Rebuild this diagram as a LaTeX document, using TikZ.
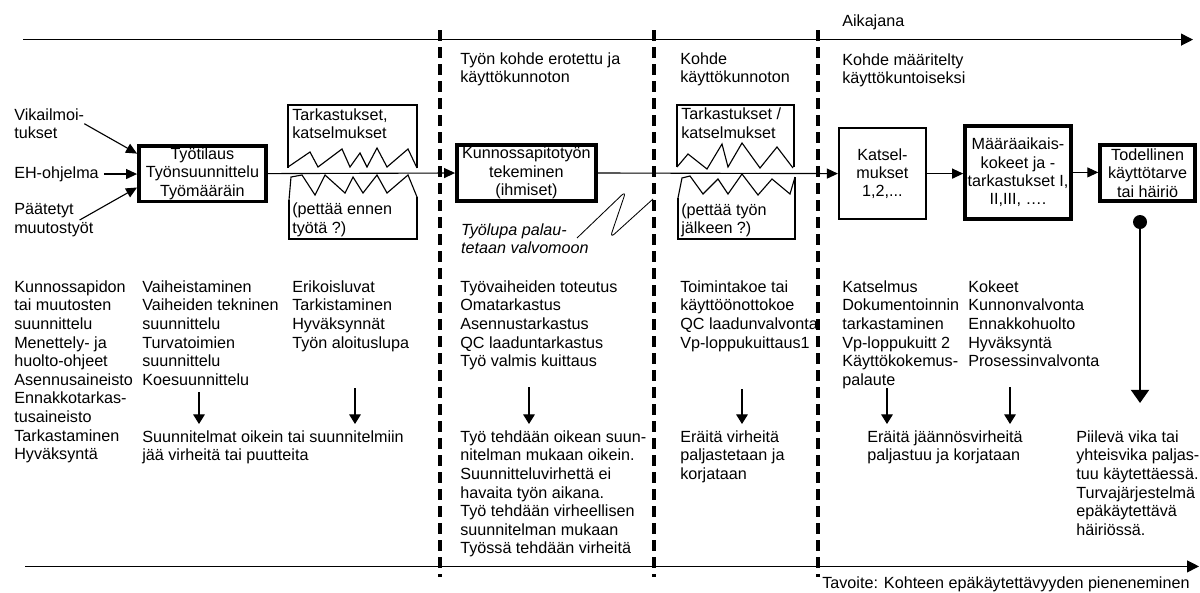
\documentclass[tikz,border=0pt]{standalone}
\usepackage{fontspec}
\setmainfont{Liberation Sans}
\usetikzlibrary{arrows.meta}
\usetikzlibrary{positioning}

\tikzstyle{txt} = [inner sep=0pt, align=left, anchor=north west, yshift=2.95mm, font=\fontsize{11.5}{13.25}\selectfont]
\tikzstyle{thickbox} = [rectangle, draw=black, line width=2.6pt, inner sep=0pt, align=center, font=\fontsize{11.5}{13.1}\selectfont]
\tikzstyle{thinbox} = [thickbox, line width=1.4pt]
\tikzstyle{arrow} = [line width=0.8pt, -{Triangle[length=2.75mm,width=2.5mm]}]
\tikzstyle{timeline} = [line width=0.8pt, -{Triangle[length=3mm,width=3mm]}]
\tikzstyle{downarrow} = [line width=0.8pt, shorten >=1.55mm, -{Triangle[length=2.4mm,width=2.9mm]}]
\tikzstyle{bigarrow} = [line width=1.6pt, -{Triangle[length=3.3mm,width=4.5mm]}]
\tikzstyle{phase} = [line width=2.5pt, dash pattern=on 2.75mm off 1.5mm]
\tikzstyle{lid} = [line width=1.5pt]
\tikzstyle{zig} = [line width=0.8pt]

\begin{document}
\begin{tikzpicture}

\useasboundingbox (0,0) rectangle (300mm,-148mm);

\coordinate (top0) at (5.75mm,-9.9mm);
\coordinate (top1) at (298.25mm,-9.9mm);
\coordinate (bot0) at (6.25mm,-141.6mm);
\coordinate (bot1) at (299.75mm,-141.6mm);
\draw [timeline] (top0) -- (top1);
\draw [timeline] (bot0) -- (bot1);

\draw [phase] (110mm,-7.5mm) -- (110mm,-144.25mm);
\draw [phase] (163.5mm,-7.5mm) -- (163.5mm,-144.25mm);
\draw [phase] (204.5mm,-7.5mm) -- (204.5mm,-144.25mm);

\node (aika) [txt] at (210.5mm,-6.6mm) {Aikajana};
\node (erotettu) [txt] at (115mm,-16mm) {Työn kohde erotettu ja\\käyttökunnoton};
\node (kunnoton) [txt] at (170mm,-16mm) {Kohde\\käyttökunnoton};
\node (kuntoinen) [txt] at (210.5mm,-16.25mm) {Kohde määritelty\\käyttökuntoiseksi};
\node (tavoite) [txt] at (205.5mm,-147mm) {Tavoite: Kohteen epäkäytettävyyden pieneneminen};

\node (tyotilaus) [thickbox, minimum width=31.75mm, minimum height=13.9mm] at (50.6mm,-43.4mm) {Työtilaus\\Työnsuunnittelu\\Työmääräin};
\node (kunnossa) [thickbox, minimum width=34.75mm, minimum height=13.9mm] at (131.6mm,-43.25mm) {Kunnossapitotyön\\tekeminen\\(ihmiset)};
\node (katsel) [thinbox, minimum width=21.75mm, minimum height=22.75mm] at (220.6mm,-43.4mm) {Katsel-\\mukset\\1,2,...};
\node (maara) [thickbox, minimum width=26.5mm, minimum height=23.25mm] at (254.5mm,-43.1mm) {Määräaikais-\\kokeet ja -\\tarkastukset I,\\II,III, ….};
\node (todellinen) [thickbox, minimum width=23.75mm, minimum height=13.9mm] at (286.9mm,-43.25mm) {Todellinen\\käyttötarve\\tai häiriö};

\node (vika) [txt] at (3.5mm,-30mm) {Vikailmoi-\\tukset};
\node (eh) [txt] at (3.5mm,-44.5mm) {EH-ohjelma};
\node (paat) [txt] at (3.5mm,-53.75mm) {Päätetyt\\muutostyöt};

\draw [arrow] (vika.east) -- (tyotilaus.163);
\draw [arrow, shorten <=1.2mm] (eh.east) -- (eh.east -| tyotilaus.west);
\draw [arrow] ([xshift=-3.5mm]paat.east) -- (tyotilaus.192);

\draw [arrow] (tyotilaus.east) -- (kunnossa.west);
\draw [arrow] (kunnossa.east) -- (katsel.west);
\draw [arrow] (katsel.east) -- (katsel.east -| maara.west);
\draw [arrow] (maara.east) -- (maara.east -| todellinen.west);

\draw [lid] (72mm,-42mm) -- (72mm,-26.25mm) -- (104.25mm,-26.25mm) -- (104.25mm,-42mm);
\draw [zig] (72mm,-41.75mm) -- (77.5mm,-38mm) -- (79.5mm,-41.75mm) -- (85.5mm,-37.25mm) -- (87.5mm,-41.75mm) -- (90mm,-38.25mm) -- (91.75mm,-41.75mm) -- (94.25mm,-37mm) -- (96.75mm,-41.75mm) -- (102mm,-37.25mm) -- (104.25mm,-42mm);
\draw [zig] (72.25mm,-50mm) -- (72.75mm,-44.25mm) -- (75.5mm,-43.75mm) -- (78.75mm,-48.75mm) -- (81.25mm,-43.75mm) -- (86.25mm,-48.25mm) -- (88.25mm,-44.25mm) -- (90.75mm,-48.25mm) -- (94.25mm,-43.75mm) -- (96.75mm,-48.25mm) -- (102mm,-43.75mm) -- (104.25mm,-49.25mm);
\draw [lid] (72.25mm,-50mm) -- (72.25mm,-59.75mm) -- (104.25mm,-59.75mm) -- (104.25mm,-49.25mm);
\node (tark1) [txt] at (73mm,-30mm) {Tarkastukset,\\katselmukset};
\node (pettaa1) [txt] at (73mm,-53.6mm) {(pettää ennen\\työtä ?)};

\draw [lid] (169.25mm,-41.75mm) -- (169.25mm,-26.25mm) -- (198.5mm,-26.25mm) -- (198.5mm,-41.75mm);
\draw [zig] (169.25mm,-41.75mm) -- (172mm,-38.5mm) -- (176.75mm,-42.25mm) -- (180.5mm,-36mm) -- (182mm,-41.75mm) -- (185.5mm,-35.75mm) -- (190mm,-42mm) -- (194.25mm,-36.75mm) -- (198.25mm,-42mm);
\draw [zig] (169.5mm,-49.5mm) -- (170.5mm,-44.5mm) -- (172.5mm,-44mm) -- (175.75mm,-48.5mm) -- (179.5mm,-44.75mm) -- (182mm,-48.5mm) -- (185.5mm,-43.5mm) -- (189.5mm,-48.75mm) -- (193mm,-44.75mm) -- (197.5mm,-48.5mm) -- (198.75mm,-44.25mm);
\draw [lid] (169.5mm,-49.5mm) -- (169.5mm,-59.75mm) -- (198.75mm,-59.75mm) -- (198.75mm,-44.25mm);
\node (tark2) [txt] at (170.25mm,-29.85mm) {Tarkastukset /\\katselmukset};
\node (pettaa2) [txt] at (170.25mm,-53.75mm) {(pettää työn\\jälkeen ?)};

\node (tyolupa) [txt, font=\fontsize{11.5}{13.25}\selectfont\itshape] at (115.2mm,-58.75mm) {Työlupa palau-\\tetaan valvomoon};
\draw [zig, line width=0.6pt, rounded corners=1.5mm] (144.25mm,-59.5mm) -- (156.5mm,-47.75mm) -- (152.5mm,-59.5mm) -- (163.25mm,-49.75mm);

\node (plan) [txt] at (3.5mm,-73mm) {Kunnossapidon\\tai muutosten\\suunnittelu\\Menettely- ja\\huolto-ohjeet\\Asennusaineisto\\Ennakkotarkas-\\tusaineisto\\Tarkastaminen\\Hyväksyntä};
\node (vaihe) [txt] at (35.5mm,-73mm) {Vaiheistaminen\\Vaiheiden tekninen\\suunnittelu\\Turvatoimien\\suunnittelu\\Koesuunnittelu};
\node (luvat) [txt] at (73mm,-73mm) {Erikoisluvat\\Tarkistaminen\\Hyväksynnät\\Työn aloituslupa};
\node (toteutus) [txt] at (115mm,-73mm) {Työvaiheiden toteutus\\Omatarkastus\\Asennustarkastus\\QC laaduntarkastus\\Työ valmis kuittaus};
\node (koe) [txt] at (170mm,-73mm) {Toimintakoe tai\\käyttöönottokoe\\QC laadunvalvonta\\Vp-loppukuittaus1};
\node (katselmus) [txt] at (210.5mm,-73mm) {Katselmus\\Dokumentoinnin\\tarkastaminen\\Vp-loppukuitt 2\\Käyttökokemus-\\palaute};
\node (kokeet) [txt] at (242mm,-73mm) {Kokeet\\Kunnonvalvonta\\Ennakkohuolto\\Hyväksyntä\\Prosessinvalvonta};

\node (tulos1) [txt] at (35.5mm,-110.5mm) {Suunnitelmat oikein tai suunnitelmiin\\jää virheitä tai puutteita};
\node (tulos2) [txt] at (115mm,-110.5mm) {Työ tehdään oikean suun-\\nitelman mukaan oikein.\\Suunnitteluvirhettä ei\\havaita työn aikana.\\Työ tehdään virheellisen\\suunnitelman mukaan\\Työssä tehdään virheitä};
\node (tulos3) [txt] at (170mm,-110.5mm) {Eräitä virheitä\\paljastetaan ja\\korjataan};
\node (tulos4) [txt] at (216.75mm,-110.5mm) {Eräitä jäännösvirheitä\\paljastuu ja korjataan};
\node (tulos5) [txt] at (269mm,-110.5mm) {Piilevä vika tai\\yhteisvika paljas-\\tuu käytettäessä.\\Turvajärjestelmä\\epäkäytettävä\\häiriössä.};

\coordinate (d1) at (49.75mm,-98mm);
\coordinate (d2) at (88.75mm,-97mm);
\coordinate (d3) at (132.25mm,-96.75mm);
\coordinate (d4) at (185.5mm,-97.25mm);
\coordinate (d5) at (221.75mm,-97mm);
\coordinate (d6) at (252.5mm,-96.75mm);
\draw [downarrow] (d1) -- (d1 |- tulos1.north);
\draw [downarrow] (d2) -- (d2 |- tulos1.north);
\draw [downarrow] (d3) -- (d3 |- tulos2.north);
\draw [downarrow] (d4) -- (d4 |- tulos3.north);
\draw [downarrow] (d5) -- (d5 |- tulos4.north);
\draw [downarrow] (d6) -- (d6 |- tulos4.north);

\coordinate (vikakohta) at (285mm,-55.5mm);
\coordinate (vikaloppu) at (285mm,-100.75mm);
\fill (vikakohta) circle (1.75mm);
\draw [bigarrow] (vikakohta) -- (vikaloppu);

\end{tikzpicture}
\end{document}
